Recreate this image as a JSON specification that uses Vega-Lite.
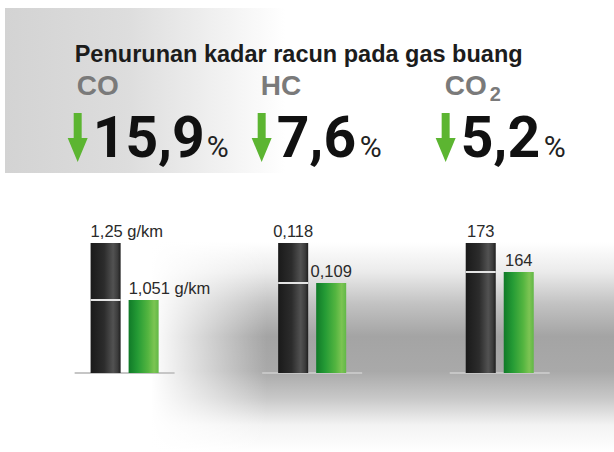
{
  "$schema": "https://vega.github.io/schema/vega-lite/v6.json",
  "padding": {"left": 5, "top": 8, "right": 0, "bottom": 0},
  "background": "white",
  "spacing": 10,
  "config": {
    "view": {"stroke": null},
    "locale": {"number": {"decimal": ",", "thousands": ".", "grouping": [3], "currency": ["", ""]}}
  },
  "datasets": {
    "header": [
      {"gas": "CO", "name": "CO", "reduction": 15.9},
      {"gas": "HC", "name": "HC", "reduction": 7.6},
      {"gas": "CO2", "name": "CO₂", "reduction": 5.2}
    ],
    "emissions": [
      {"gas": "CO", "series": "before", "value": 1.25, "label": "1,25 g/km"},
      {"gas": "CO", "series": "after", "value": 1.051, "label": "1,051 g/km"},
      {"gas": "HC", "series": "before", "value": 0.118, "label": "0,118"},
      {"gas": "HC", "series": "after", "value": 0.109, "label": "0,109"},
      {"gas": "CO2", "series": "before", "value": 173, "label": "173"},
      {"gas": "CO2", "series": "after", "value": 164, "label": "164"}
    ]
  },
  "vconcat": [
    {
      "width": 609,
      "height": 165,
      "view": {"stroke": null, "fill": {"gradient": "linear", "x1": 0, "y1": 0, "x2": 1, "y2": 0, "stops": [{"offset": 0, "color": "#d3d3d3"}, {"offset": 0.2, "color": "#dddddd"}, {"offset": 0.46, "color": "#ffffff"}, {"offset": 1, "color": "#ffffff"}]}},
      "data": {"name": "header"},
      "transform": [
        {"calculate": "replace(datum.name, '₂', '')", "as": "base"},
        {"calculate": "indexof(datum.name, '₂') >= 0 ? '2' : ''", "as": "sub"}
      ],
      "encoding": {
        "x": {"field": "gas", "type": "nominal", "sort": null, "bandPosition": 0, "axis": null,
              "scale": {"type": "band", "domain": ["CO", "HC", "CO2"], "paddingInner": 0.5, "paddingOuter": 0.405, "align": 0.481}}
      },
      "layer": [
        {
          "transform": [{"filter": "datum.gas === 'CO'"}],
          "mark": {"type": "text", "text": "Penurunan kadar racun pada gas buang", "align": "left", "baseline": "alphabetic", "font": "Liberation Sans", "fontSize": 23.5, "fontWeight": "bold", "color": "#1c1c1c", "dx": -2, "dy": -29}
        },
        {
          "mark": {"type": "text", "align": "left", "baseline": "alphabetic", "font": "Liberation Sans", "fontSize": 28, "fontWeight": "bold", "color": "#7a7a7a", "dx": 0, "dy": 4.5},
          "encoding": {"text": {"field": "base"}}
        },
        {
          "mark": {"type": "text", "align": "left", "baseline": "alphabetic", "font": "Liberation Sans", "fontSize": 20, "fontWeight": "bold", "color": "#7a7a7a", "dx": 45, "dy": 10},
          "encoding": {"text": {"field": "sub"}}
        },
        {
          "mark": {"type": "point", "shape": "M-0.163,-1 L0.163,-1 L0.163,0.02 L0.408,0.02 L0,1 L-0.408,0.02 L-0.163,0.02 Z", "filled": true, "opacity": 1, "color": "#5cb531", "size": 2401, "xOffset": 1, "yOffset": 47}
        },
        {
          "mark": {"type": "text", "align": "left", "baseline": "alphabetic", "font": "Roboto", "fontSize": 57, "fontWeight": "bold", "color": "#111111", "dx": 16, "dy": 66.5},
          "encoding": {"text": {"field": "reduction", "type": "quantitative", "format": ".1f"}}
        },
        {
          "mark": {"type": "text", "text": "%", "align": "left", "baseline": "alphabetic", "font": "Roboto", "fontSize": 30, "color": "#222222", "dy": 66.5,
                   "dx": {"expr": "6 + 31 * length(format(datum.reduction, '.1f'))"}}
        }
      ]
    },
    {
      "width": 609,
      "height": 269,
      "view": {"stroke": null, "fill": {"gradient": "linear", "x1": 0, "y1": 0, "x2": 0, "y2": 1, "stops": [{"offset": 0, "color": "#ffffff"}, {"offset": 0.22, "color": "#ffffff"}, {"offset": 0.33, "color": "#ebebeb"}, {"offset": 0.45, "color": "#c2c2c2"}, {"offset": 0.57, "color": "#a4a4a4"}, {"offset": 0.7, "color": "#a9a9a9"}, {"offset": 0.8, "color": "#c8c8c8"}, {"offset": 0.9, "color": "#f3f3f3"}, {"offset": 1, "color": "#ffffff"}]}},
      "data": {"name": "emissions"},
      "encoding": {
        "x": {"field": "gas", "type": "nominal", "sort": null, "axis": null,
              "scale": {"type": "band", "domain": ["CO", "HC", "CO2"], "paddingInner": 0.467, "paddingOuter": 0.357, "align": 0.52}}
      },
      "resolve": {"scale": {"y": "independent"}},
      "layer": [
        {
          "data": {"values": [{}]},
          "mark": {"type": "rect", "fill": {"gradient": "linear", "x1": 0, "y1": 0, "x2": 1, "y2": 0, "stops": [{"offset": 0, "color": "rgba(255,255,255,1)"}, {"offset": 0.24, "color": "rgba(255,255,255,1)"}, {"offset": 0.43, "color": "rgba(255,255,255,0)"}, {"offset": 1, "color": "rgba(255,255,255,0)"}]}},
          "encoding": {"x": {"value": 0}, "x2": {"value": "width"}, "y": {"value": 0}, "y2": {"value": "height"}}
        },
        {
          "transform": [{"filter": "datum.gas === 'CO'"}],
          "encoding": {"y": {"field": "value", "type": "quantitative", "axis": null, "scale": {"domain": [0.5203, 1.4595], "zero": false, "nice": false}}},
          "layer": [
            {"transform": [{"filter": "datum.series === 'before'"}], "mark": {"type": "rule", "color": "#c6c6c6", "strokeWidth": 2},
             "encoding": {"x": {"field": "gas", "type": "nominal", "bandPosition": 0}, "x2": {"field": "gas", "bandPosition": 1}, "y": {"datum": 0.7961}}},
            {"transform": [{"filter": "datum.series === 'before'"}],
             "mark": {"type": "bar", "fill": {"gradient": "linear", "x1": 0, "y1": 0, "x2": 1, "y2": 0, "stops": [{"offset": 0, "color": "#1a1a1a"}, {"offset": 0.45, "color": "#2c2c2c"}, {"offset": 0.75, "color": "#525252"}, {"offset": 0.9, "color": "#3c3c3c"}, {"offset": 1, "color": "#1e1e1e"}]}},
             "encoding": {"xOffset": {"field": "series", "type": "nominal", "sort": null, "scale": {"domain": ["before", "after"], "paddingInner": 0.21, "paddingOuter": 0.42}}, "y2": {"datum": 0.7961}}},
            {"transform": [{"filter": "datum.series === 'after'"}],
             "mark": {"type": "bar", "fill": {"gradient": "linear", "x1": 0, "y1": 0, "x2": 1, "y2": 0, "stops": [{"offset": 0, "color": "#107a28"}, {"offset": 0.3, "color": "#259b35"}, {"offset": 0.65, "color": "#54b540"}, {"offset": 0.85, "color": "#7cc453"}, {"offset": 1, "color": "#62b847"}]}},
             "encoding": {"xOffset": {"field": "series", "type": "nominal", "sort": null}, "y2": {"datum": 0.7961}}},
            {"transform": [{"filter": "datum.series === 'after'"}],
             "mark": {"type": "tick", "color": "#e4e4e4", "thickness": 2, "size": 30, "opacity": 1},
             "encoding": {"xOffset": {"datum": "before", "type": "nominal"}}},
            {"mark": {"type": "text", "align": "left", "baseline": "alphabetic", "font": "Liberation Sans", "fontSize": 16.5, "color": "#2a2a2a", "dx": -15, "dy": -6},
             "encoding": {"xOffset": {"field": "series", "type": "nominal", "sort": null}, "text": {"field": "label"}}}
          ]
        },
        {
          "transform": [{"filter": "datum.gas === 'HC'"}],
          "encoding": {"y": {"field": "value", "type": "quantitative", "axis": null, "scale": {"domain": [0.07098, 0.1315], "zero": false, "nice": false}}},
          "layer": [
            {"transform": [{"filter": "datum.series === 'before'"}], "mark": {"type": "rule", "color": "#c6c6c6", "strokeWidth": 2},
             "encoding": {"x": {"field": "gas", "type": "nominal", "bandPosition": 0}, "x2": {"field": "gas", "bandPosition": 1}, "y": {"datum": 0.08875}}},
            {"transform": [{"filter": "datum.series === 'before'"}],
             "mark": {"type": "bar", "fill": {"gradient": "linear", "x1": 0, "y1": 0, "x2": 1, "y2": 0, "stops": [{"offset": 0, "color": "#1a1a1a"}, {"offset": 0.45, "color": "#2c2c2c"}, {"offset": 0.75, "color": "#525252"}, {"offset": 0.9, "color": "#3c3c3c"}, {"offset": 1, "color": "#1e1e1e"}]}},
             "encoding": {"xOffset": {"field": "series", "type": "nominal", "sort": null}, "y2": {"datum": 0.08875}}},
            {"transform": [{"filter": "datum.series === 'after'"}],
             "mark": {"type": "bar", "fill": {"gradient": "linear", "x1": 0, "y1": 0, "x2": 1, "y2": 0, "stops": [{"offset": 0, "color": "#107a28"}, {"offset": 0.3, "color": "#259b35"}, {"offset": 0.65, "color": "#54b540"}, {"offset": 0.85, "color": "#7cc453"}, {"offset": 1, "color": "#62b847"}]}},
             "encoding": {"xOffset": {"field": "series", "type": "nominal", "sort": null}, "y2": {"datum": 0.08875}}},
            {"transform": [{"filter": "datum.series === 'after'"}],
             "mark": {"type": "tick", "color": "#e4e4e4", "thickness": 2, "size": 30, "opacity": 1},
             "encoding": {"xOffset": {"datum": "before", "type": "nominal"}}},
            {"mark": {"type": "text", "align": "center", "baseline": "alphabetic", "font": "Liberation Sans", "fontSize": 16.5, "color": "#2a2a2a", "dy": -6},
             "encoding": {"xOffset": {"field": "series", "type": "nominal", "sort": null}, "text": {"field": "label"}}}
          ]
        },
        {
          "transform": [{"filter": "datum.gas === 'CO2'"}],
          "encoding": {"y": {"field": "value", "type": "quantitative", "axis": null, "scale": {"domain": [108.14, 191.62], "zero": false, "nice": false}}},
          "layer": [
            {"transform": [{"filter": "datum.series === 'before'"}], "mark": {"type": "rule", "color": "#c6c6c6", "strokeWidth": 2},
             "encoding": {"x": {"field": "gas", "type": "nominal", "bandPosition": 0}, "x2": {"field": "gas", "bandPosition": 1}, "y": {"datum": 132.655}}},
            {"transform": [{"filter": "datum.series === 'before'"}],
             "mark": {"type": "bar", "fill": {"gradient": "linear", "x1": 0, "y1": 0, "x2": 1, "y2": 0, "stops": [{"offset": 0, "color": "#1a1a1a"}, {"offset": 0.45, "color": "#2c2c2c"}, {"offset": 0.75, "color": "#525252"}, {"offset": 0.9, "color": "#3c3c3c"}, {"offset": 1, "color": "#1e1e1e"}]}},
             "encoding": {"xOffset": {"field": "series", "type": "nominal", "sort": null}, "y2": {"datum": 132.655}}},
            {"transform": [{"filter": "datum.series === 'after'"}],
             "mark": {"type": "bar", "fill": {"gradient": "linear", "x1": 0, "y1": 0, "x2": 1, "y2": 0, "stops": [{"offset": 0, "color": "#107a28"}, {"offset": 0.3, "color": "#259b35"}, {"offset": 0.65, "color": "#54b540"}, {"offset": 0.85, "color": "#7cc453"}, {"offset": 1, "color": "#62b847"}]}},
             "encoding": {"xOffset": {"field": "series", "type": "nominal", "sort": null}, "y2": {"datum": 132.655}}},
            {"transform": [{"filter": "datum.series === 'after'"}],
             "mark": {"type": "tick", "color": "#e4e4e4", "thickness": 2, "size": 30, "opacity": 1},
             "encoding": {"xOffset": {"datum": "before", "type": "nominal"}}},
            {"mark": {"type": "text", "align": "center", "baseline": "alphabetic", "font": "Liberation Sans", "fontSize": 16.5, "color": "#2a2a2a", "dy": -6},
             "encoding": {"xOffset": {"field": "series", "type": "nominal", "sort": null}, "text": {"field": "label"}}}
          ]
        }
      ]
    }
  ]
}
